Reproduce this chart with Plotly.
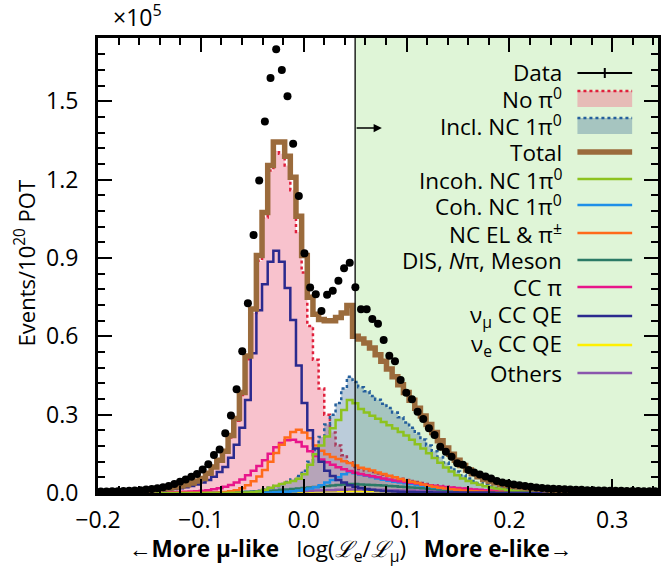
import numpy as np
import plotly.graph_objects as go

# ---- binning (log(Le/Lmu), 100 bins) ----
BIN_LO, BIN_HI, N_BINS = -0.20, 0.35, 100
CUT = 0.05
X_VIEW = (-0.20, 0.3445)
Y_VIEW = (0.0, 1.743)

# ---- per-bin contents, in units of 1e5 events / 1e20 POT ----
data = [
    0.006, 0.006, 0.007, 0.007, 0.008, 0.009, 0.010, 0.011, 0.013, 0.015,
    0.018, 0.022, 0.027, 0.034, 0.043, 0.052, 0.062, 0.073, 0.090, 0.110,
    0.146, 0.167, 0.229, 0.297, 0.397, 0.543, 0.727, 0.988, 1.197, 1.423,
    1.590, 1.700, 1.620, 1.520, 1.338, 1.138, 0.918, 0.787, 0.761, 0.697,
    0.759, 0.775, 0.813, 0.861, 0.882, 0.788, 0.704, 0.704, 0.667, 0.648,
    0.586, 0.526, 0.505, 0.433, 0.384, 0.359, 0.311, 0.283, 0.248, 0.222,
    0.177, 0.158, 0.139, 0.114, 0.108, 0.088, 0.079, 0.071, 0.063, 0.056,
    0.046, 0.040, 0.036, 0.033, 0.030, 0.027, 0.024, 0.021, 0.019, 0.017,
    0.016, 0.015, 0.014, 0.013, 0.012, 0.012, 0.011, 0.011, 0.010, 0.010,
    0.009, 0.009, 0.009, 0.008, 0.008, 0.008, 0.007, 0.007, 0.007, 0.006,
]

total = [
    0.004, 0.004, 0.005, 0.005, 0.006, 0.007, 0.008, 0.009, 0.010, 0.012,
    0.014, 0.016, 0.019, 0.023, 0.027, 0.032, 0.038, 0.046, 0.056, 0.076,
    0.100, 0.125, 0.160, 0.220, 0.285, 0.385, 0.525, 0.705, 0.910, 1.075,
    1.255, 1.345, 1.345, 1.290, 1.210, 1.060, 0.910, 0.750, 0.685, 0.665,
    0.660, 0.660, 0.672, 0.690, 0.718, 0.600, 0.590, 0.575, 0.555, 0.530,
    0.505, 0.475, 0.445, 0.415, 0.385, 0.355, 0.325, 0.295, 0.262, 0.232,
    0.200, 0.172, 0.148, 0.125, 0.105, 0.088, 0.074, 0.062, 0.052, 0.044,
    0.038, 0.033, 0.029, 0.026, 0.023, 0.020, 0.018, 0.016, 0.014, 0.012,
    0.011, 0.010, 0.009, 0.008, 0.007, 0.007, 0.006, 0.006, 0.005, 0.005,
    0.005, 0.004, 0.004, 0.004, 0.004, 0.003, 0.003, 0.003, 0.003, 0.003,
]

no_pi0 = [
    0.004, 0.004, 0.005, 0.005, 0.006, 0.007, 0.008, 0.009, 0.010, 0.012,
    0.014, 0.016, 0.019, 0.022, 0.026, 0.031, 0.037, 0.044, 0.054, 0.073,
    0.097, 0.121, 0.155, 0.213, 0.277, 0.375, 0.512, 0.690, 0.890, 1.055,
    1.235, 1.310, 1.300, 1.255, 1.160, 1.000, 0.845, 0.640, 0.510, 0.400,
    0.300, 0.232, 0.182, 0.145, 0.118, 0.100, 0.092, 0.086, 0.080, 0.075,
    0.070, 0.065, 0.060, 0.055, 0.050, 0.046, 0.042, 0.038, 0.034, 0.030,
    0.027, 0.024, 0.021, 0.018, 0.016, 0.014, 0.012, 0.010, 0.009, 0.008,
    0.007, 0.006, 0.005, 0.005, 0.004, 0.004, 0.003, 0.003, 0.003, 0.003,
    0.002, 0.002, 0.002, 0.002, 0.002, 0.002, 0.002, 0.002, 0.002, 0.002,
    0.002, 0.002, 0.002, 0.001, 0.001, 0.001, 0.001, 0.001, 0.001, 0.001,
]

nc1pi0 = [
    0.000, 0.000, 0.000, 0.000, 0.000, 0.000, 0.000, 0.000, 0.000, 0.000,
    0.000, 0.000, 0.000, 0.000, 0.000, 0.001, 0.001, 0.001, 0.001, 0.001,
    0.001, 0.001, 0.002, 0.002, 0.002, 0.003, 0.003, 0.005, 0.009, 0.014,
    0.020, 0.027, 0.034, 0.042, 0.052, 0.065, 0.085, 0.120, 0.165, 0.215,
    0.262, 0.300, 0.345, 0.400, 0.445, 0.425, 0.405, 0.390, 0.372, 0.357,
    0.342, 0.326, 0.308, 0.290, 0.270, 0.250, 0.228, 0.205, 0.182, 0.160,
    0.138, 0.117, 0.098, 0.082, 0.068, 0.056, 0.046, 0.038, 0.031, 0.025,
    0.020, 0.017, 0.014, 0.011, 0.009, 0.008, 0.007, 0.006, 0.005, 0.004,
    0.004, 0.003, 0.003, 0.003, 0.002, 0.002, 0.002, 0.002, 0.002, 0.001,
    0.001, 0.001, 0.001, 0.001, 0.001, 0.001, 0.001, 0.001, 0.001, 0.001,
]

incoh_nc1pi0 = [
    0.000, 0.000, 0.000, 0.000, 0.000, 0.000, 0.000, 0.000, 0.000, 0.000,
    0.000, 0.000, 0.000, 0.000, 0.000, 0.000, 0.000, 0.000, 0.000, 0.000,
    0.000, 0.000, 0.000, 0.001, 0.001, 0.001, 0.002, 0.003, 0.006, 0.012,
    0.020, 0.028, 0.034, 0.040, 0.046, 0.055, 0.072, 0.108, 0.148, 0.182,
    0.216, 0.248, 0.280, 0.318, 0.356, 0.344, 0.322, 0.308, 0.296, 0.284,
    0.272, 0.260, 0.247, 0.234, 0.220, 0.204, 0.187, 0.170, 0.152, 0.134,
    0.116, 0.098, 0.082, 0.068, 0.056, 0.046, 0.038, 0.032, 0.026, 0.021,
    0.017, 0.014, 0.011, 0.009, 0.007, 0.006, 0.005, 0.004, 0.003, 0.003,
    0.002, 0.002, 0.002, 0.001, 0.001, 0.001, 0.001, 0.001, 0.001, 0.001,
    0.001, 0.001, 0.000, 0.000, 0.000, 0.000, 0.000, 0.000, 0.000, 0.000,
]

coh_nc1pi0 = [
    0.000, 0.000, 0.000, 0.000, 0.000, 0.000, 0.000, 0.000, 0.000, 0.000,
    0.000, 0.000, 0.000, 0.000, 0.000, 0.000, 0.000, 0.000, 0.000, 0.000,
    0.000, 0.000, 0.000, 0.000, 0.000, 0.000, 0.000, 0.000, 0.001, 0.001,
    0.002, 0.003, 0.004, 0.005, 0.007, 0.010, 0.013, 0.017, 0.022, 0.030,
    0.040, 0.050, 0.060, 0.072, 0.080, 0.076, 0.071, 0.066, 0.061, 0.056,
    0.051, 0.047, 0.043, 0.040, 0.037, 0.034, 0.031, 0.028, 0.025, 0.022,
    0.019, 0.016, 0.014, 0.012, 0.010, 0.008, 0.007, 0.006, 0.005, 0.004,
    0.003, 0.003, 0.002, 0.002, 0.002, 0.001, 0.001, 0.001, 0.001, 0.001,
    0.001, 0.001, 0.000, 0.000, 0.000, 0.000, 0.000, 0.000, 0.000, 0.000,
    0.000, 0.000, 0.000, 0.000, 0.000, 0.000, 0.000, 0.000, 0.000, 0.000,
]

nc_el_pipm = [
    0.000, 0.000, 0.000, 0.000, 0.000, 0.000, 0.000, 0.000, 0.000, 0.000,
    0.000, 0.000, 0.000, 0.000, 0.001, 0.001, 0.001, 0.001, 0.001, 0.001,
    0.001, 0.002, 0.004, 0.007, 0.011, 0.018, 0.030, 0.045, 0.063, 0.088,
    0.120, 0.153, 0.185, 0.213, 0.234, 0.242, 0.232, 0.210, 0.182, 0.162,
    0.148, 0.138, 0.130, 0.122, 0.115, 0.105, 0.097, 0.092, 0.086, 0.079,
    0.073, 0.066, 0.060, 0.054, 0.048, 0.043, 0.038, 0.033, 0.028, 0.024,
    0.020, 0.017, 0.014, 0.012, 0.010, 0.008, 0.007, 0.006, 0.005, 0.004,
    0.004, 0.003, 0.003, 0.002, 0.002, 0.002, 0.002, 0.001, 0.001, 0.001,
    0.001, 0.001, 0.001, 0.001, 0.001, 0.001, 0.001, 0.001, 0.001, 0.001,
    0.001, 0.001, 0.001, 0.001, 0.001, 0.001, 0.001, 0.001, 0.001, 0.001,
]

dis_npi_meson = [
    0.000, 0.000, 0.000, 0.000, 0.000, 0.000, 0.000, 0.000, 0.000, 0.000,
    0.000, 0.000, 0.000, 0.000, 0.000, 0.000, 0.000, 0.000, 0.000, 0.000,
    0.000, 0.001, 0.002, 0.002, 0.003, 0.004, 0.005, 0.006, 0.007, 0.008,
    0.009, 0.010, 0.012, 0.013, 0.015, 0.017, 0.019, 0.021, 0.023, 0.025,
    0.027, 0.029, 0.031, 0.033, 0.034, 0.034, 0.033, 0.032, 0.031, 0.030,
    0.029, 0.027, 0.026, 0.024, 0.023, 0.021, 0.020, 0.018, 0.016, 0.015,
    0.013, 0.012, 0.011, 0.010, 0.009, 0.008, 0.007, 0.006, 0.005, 0.005,
    0.004, 0.004, 0.003, 0.003, 0.003, 0.002, 0.002, 0.002, 0.002, 0.002,
    0.001, 0.001, 0.001, 0.001, 0.001, 0.001, 0.001, 0.001, 0.001, 0.001,
    0.001, 0.001, 0.001, 0.001, 0.001, 0.001, 0.001, 0.001, 0.001, 0.001,
]

cc_pi = [
    0.001, 0.001, 0.001, 0.001, 0.001, 0.001, 0.001, 0.001, 0.002, 0.002,
    0.002, 0.002, 0.003, 0.003, 0.004, 0.005, 0.006, 0.007, 0.009, 0.011,
    0.014, 0.018, 0.024, 0.031, 0.040, 0.052, 0.068, 0.085, 0.103, 0.125,
    0.150, 0.175, 0.192, 0.202, 0.204, 0.195, 0.178, 0.160, 0.142, 0.128,
    0.118, 0.108, 0.099, 0.091, 0.084, 0.078, 0.073, 0.068, 0.064, 0.060,
    0.056, 0.052, 0.048, 0.045, 0.042, 0.039, 0.036, 0.033, 0.030, 0.028,
    0.025, 0.023, 0.021, 0.019, 0.017, 0.015, 0.013, 0.012, 0.011, 0.010,
    0.009, 0.008, 0.007, 0.006, 0.006, 0.005, 0.005, 0.004, 0.004, 0.003,
    0.003, 0.003, 0.003, 0.002, 0.002, 0.002, 0.002, 0.002, 0.002, 0.002,
    0.001, 0.001, 0.001, 0.001, 0.001, 0.001, 0.001, 0.001, 0.001, 0.001,
]

numu_ccqe = [
    0.0025, 0.003, 0.003, 0.0035, 0.004, 0.0045, 0.005, 0.006, 0.007, 0.008,
    0.009, 0.011, 0.013, 0.015, 0.018, 0.022, 0.027, 0.033, 0.040, 0.050,
    0.062, 0.080, 0.100, 0.135, 0.185, 0.250, 0.356, 0.535, 0.700, 0.800,
    0.886, 0.928, 0.886, 0.785, 0.663, 0.488, 0.345, 0.240, 0.170, 0.120,
    0.085, 0.065, 0.050, 0.040, 0.030, 0.024, 0.019, 0.015, 0.012, 0.010,
    0.008, 0.007, 0.006, 0.005, 0.004, 0.004, 0.003, 0.003, 0.003, 0.002,
    0.002, 0.002, 0.002, 0.002, 0.002, 0.002, 0.002, 0.002, 0.002, 0.002,
    0.001, 0.001, 0.001, 0.001, 0.001, 0.001, 0.001, 0.001, 0.001, 0.001,
    0.001, 0.001, 0.001, 0.001, 0.001, 0.001, 0.001, 0.001, 0.001, 0.001,
    0.001, 0.001, 0.001, 0.001, 0.001, 0.001, 0.001, 0.001, 0.001, 0.001,
]

nue_ccqe = [
    0.000, 0.000, 0.000, 0.000, 0.000, 0.000, 0.000, 0.000, 0.000, 0.000,
    0.000, 0.000, 0.000, 0.000, 0.000, 0.000, 0.000, 0.000, 0.000, 0.000,
    0.000, 0.000, 0.000, 0.000, 0.001, 0.001, 0.001, 0.001, 0.002, 0.002,
    0.003, 0.003, 0.004, 0.004, 0.005, 0.005, 0.006, 0.006, 0.007, 0.007,
    0.008, 0.008, 0.008, 0.008, 0.008, 0.008, 0.008, 0.008, 0.008, 0.008,
    0.008, 0.008, 0.008, 0.008, 0.008, 0.008, 0.007, 0.007, 0.007, 0.007,
    0.007, 0.007, 0.006, 0.006, 0.006, 0.006, 0.006, 0.005, 0.005, 0.005,
    0.005, 0.005, 0.004, 0.004, 0.004, 0.004, 0.004, 0.003, 0.003, 0.003,
    0.003, 0.003, 0.003, 0.002, 0.002, 0.002, 0.002, 0.002, 0.002, 0.002,
    0.002, 0.002, 0.001, 0.001, 0.001, 0.001, 0.001, 0.001, 0.001, 0.001,
]

others = [
    0.000, 0.000, 0.000, 0.000, 0.000, 0.000, 0.000, 0.000, 0.000, 0.000,
    0.000, 0.000, 0.000, 0.000, 0.000, 0.000, 0.000, 0.000, 0.000, 0.000,
    0.001, 0.001, 0.001, 0.002, 0.002, 0.002, 0.003, 0.003, 0.004, 0.004,
    0.005, 0.005, 0.006, 0.006, 0.007, 0.008, 0.008, 0.009, 0.010, 0.010,
    0.011, 0.011, 0.012, 0.012, 0.013, 0.013, 0.013, 0.012, 0.012, 0.012,
    0.012, 0.011, 0.011, 0.010, 0.010, 0.010, 0.009, 0.009, 0.008, 0.008,
    0.008, 0.007, 0.007, 0.006, 0.006, 0.006, 0.005, 0.005, 0.004, 0.004,
    0.004, 0.004, 0.003, 0.003, 0.003, 0.003, 0.002, 0.002, 0.002, 0.002,
    0.001, 0.001, 0.001, 0.001, 0.001, 0.001, 0.001, 0.001, 0.001, 0.001,
    0.001, 0.001, 0.001, 0.001, 0.001, 0.001, 0.001, 0.001, 0.001, 0.001,
]

# ---- styling ----
FONT = "Open Sans"
W, H = 661, 569
M_L, M_R, M_T, M_B = 98, 0, 38, 76
BG_SIGNAL = "rgb(223,245,215)"

C_TOTAL = "#9b6b3c"
C_INCOH = "#8dc21f"
C_COH = "#1e8fe8"
C_NCEL = "#ff6a1a"
C_DIS = "#2b7a66"
C_CCPI = "#e8158a"
C_NUMU = "#2b2a8e"
C_NUE = "#fff000"
C_OTH = "#8a56ad"
C_RED_DOT = "#e0203c"
C_BLUE_DOT = "#245f9c"
FILL_NOPI0 = "rgba(240,120,145,0.45)"
FILL_NC1PI0 = "rgba(60,110,150,0.35)"

edges = np.linspace(BIN_LO, BIN_HI, N_BINS + 1)
centers = 0.5 * (edges[:-1] + edges[1:])


def step_y(vals):
    return list(vals) + [vals[-1]]


fig = go.Figure()

# filled category histograms
fig.add_trace(go.Scatter(x=edges, y=step_y(no_pi0), mode="lines",
                         line=dict(shape="hv", width=0), fill="tozeroy",
                         fillcolor=FILL_NOPI0, hoverinfo="skip"))
fig.add_trace(go.Scatter(x=edges, y=step_y(no_pi0), mode="lines",
                         line=dict(shape="hv", width=2.5, color=C_RED_DOT, dash="dot")))
fig.add_trace(go.Scatter(x=edges, y=step_y(nc1pi0), mode="lines",
                         line=dict(shape="hv", width=0), fill="tozeroy",
                         fillcolor=FILL_NC1PI0, hoverinfo="skip"))
fig.add_trace(go.Scatter(x=edges, y=step_y(nc1pi0), mode="lines",
                         line=dict(shape="hv", width=2.5, color=C_BLUE_DOT, dash="dot")))

# interaction-mode lines
for vals, col in [
    (nue_ccqe, C_NUE),
    (others, C_OTH),
    (dis_npi_meson, C_DIS),
    (coh_nc1pi0, C_COH),
    (cc_pi, C_CCPI),
    (nc_el_pipm, C_NCEL),
    (incoh_nc1pi0, C_INCOH),
    (numu_ccqe, C_NUMU),
]:
    fig.add_trace(go.Scatter(x=edges, y=step_y(vals), mode="lines",
                             line=dict(shape="hv", width=2.5, color=col)))

# total MC
fig.add_trace(go.Scatter(x=edges, y=step_y(total), mode="lines",
                         line=dict(shape="hv", width=5.5, color=C_TOTAL)))

# data
fig.add_trace(go.Scatter(x=centers, y=data, mode="markers",
                         marker=dict(size=8, color="black")))

# signal region shading and cut line
fig.add_shape(type="rect", xref="x", yref="y", x0=CUT, x1=X_VIEW[1],
              y0=Y_VIEW[0], y1=Y_VIEW[1], fillcolor=BG_SIGNAL,
              line=dict(width=0), layer="below")
fig.add_shape(type="line", xref="x", yref="y", x0=CUT, x1=CUT,
              y0=Y_VIEW[0], y1=Y_VIEW[1], line=dict(color="black", width=1.3),
              layer="above")
fig.add_annotation(x=0.076, y=1.398, ax=CUT, ay=1.398, xref="x", yref="y",
                   axref="x", ayref="y", showarrow=True, arrowhead=2,
                   arrowsize=1.1, arrowwidth=1.5, arrowcolor="black", text="")

# ---- hand-built legend (labels right-aligned, swatch on the right) ----
plot_w = W - M_L - M_R
plot_h = H - M_T - M_B


def px_x(px):
    return (px - M_L) / plot_w


def px_y(py):
    return (H - M_B - py) / plot_h


legend_rows = [
    ("Data", "data", 73),
    ("No π<sup>0</sup>", "fill_nopi0", 99),
    ("Incl. NC 1π<sup>0</sup>", "fill_nc1pi0", 126),
    ("Total", C_TOTAL, 152),
    ("Incoh. NC 1π<sup>0</sup>", C_INCOH, 179),
    ("Coh. NC 1π<sup>0</sup>", C_COH, 205),
    ("NC EL &amp; π<sup>±</sup>", C_NCEL, 233),
    ("DIS, <i>N</i>π, Meson", C_DIS, 260),
    ("CC π", C_CCPI, 287),
    ("ν<sub>μ</sub> CC QE", C_NUMU, 316),
    ("ν<sub>e</sub> CC QE", C_NUE, 345),
    ("Others", C_OTH, 373),
]
TXT_R, SW_L, SW_R = 566, 580, 635
for label, style, py in legend_rows:
    fig.add_annotation(x=px_x(TXT_R), y=px_y(py), xref="paper", yref="paper",
                       text=label, showarrow=False, xanchor="right",
                       yanchor="middle", font=dict(size=22.5, color="black", family=FONT))
    if style == "data":
        fig.add_shape(type="line", xref="paper", yref="paper",
                      x0=px_x(SW_L), x1=px_x(SW_R), y0=px_y(py), y1=px_y(py),
                      line=dict(color="black", width=2))
        mid = 0.5 * (SW_L + SW_R)
        fig.add_shape(type="line", xref="paper", yref="paper",
                      x0=px_x(mid), x1=px_x(mid), y0=px_y(py - 5), y1=px_y(py + 5),
                      line=dict(color="black", width=2))
    elif style in ("fill_nopi0", "fill_nc1pi0"):
        fc, lc = ((FILL_NOPI0, C_RED_DOT) if style == "fill_nopi0"
                  else (FILL_NC1PI0, C_BLUE_DOT))
        fig.add_shape(type="rect", xref="paper", yref="paper",
                      x0=px_x(SW_L), x1=px_x(SW_R), y0=px_y(py + 8), y1=px_y(py - 8),
                      fillcolor=fc, line=dict(width=0))
        fig.add_shape(type="line", xref="paper", yref="paper",
                      x0=px_x(SW_L), x1=px_x(SW_R), y0=px_y(py - 8), y1=px_y(py - 8),
                      line=dict(color=lc, width=2.5, dash="dot"))
    else:
        fig.add_shape(type="line", xref="paper", yref="paper",
                      x0=px_x(SW_L), x1=px_x(SW_R), y0=px_y(py), y1=px_y(py),
                      line=dict(color=style, width=5.5 if style == C_TOTAL else 2.5))

# axis labels
fig.add_annotation(x=px_x(138), y=px_y(16), xref="paper", yref="paper",
                   text="×10<sup>5</sup>", showarrow=False, xanchor="center",
                   yanchor="middle", font=dict(size=23, color="black", family=FONT))
fig.add_annotation(x=px_x(24), y=px_y(263), xref="paper", yref="paper",
                   text="Events/10<sup>20</sup> POT", showarrow=False, textangle=-90,
                   xanchor="center", yanchor="middle",
                   font=dict(size=22, color="black", family=FONT))
fig.add_annotation(x=px_x(352), y=px_y(550), xref="paper", yref="paper",
                   text=("←<b>More μ-like</b>   log(<i>ℒ</i><sub>e</sub>/<i>ℒ</i><sub>μ</sub>)"
                         "   <b>More e-like</b>→"),
                   showarrow=False, xanchor="center", yanchor="middle",
                   font=dict(size=22.5, color="black", family=FONT))

axis_common = dict(
    showgrid=False, zeroline=False, showline=True, linecolor="black",
    linewidth=3, mirror="ticks", ticks="inside", tickcolor="black",
    tickwidth=2, ticklen=14, tickformat=".1f",
    tickfont=dict(size=23, color="black", family=FONT),
)
fig.update_xaxes(range=list(X_VIEW), dtick=0.1, tick0=0,
                 minor=dict(dtick=0.02, ticks="inside", ticklen=7,
                            tickwidth=1.5, tickcolor="black"),
                 ticklabelstandoff=4, **axis_common)
fig.update_yaxes(range=list(Y_VIEW), dtick=0.3, tick0=0,
                 minor=dict(dtick=0.06, ticks="inside", ticklen=7,
                            tickwidth=1.5, tickcolor="black"),
                 ticklabelstandoff=12, **axis_common)

fig.update_layout(
    width=W, height=H,
    margin=dict(l=M_L, r=M_R, t=M_T, b=M_B),
    plot_bgcolor="white", paper_bgcolor="white",
    showlegend=False,
    font=dict(family=FONT, color="black"),
)

fig.write_html("out.html")
